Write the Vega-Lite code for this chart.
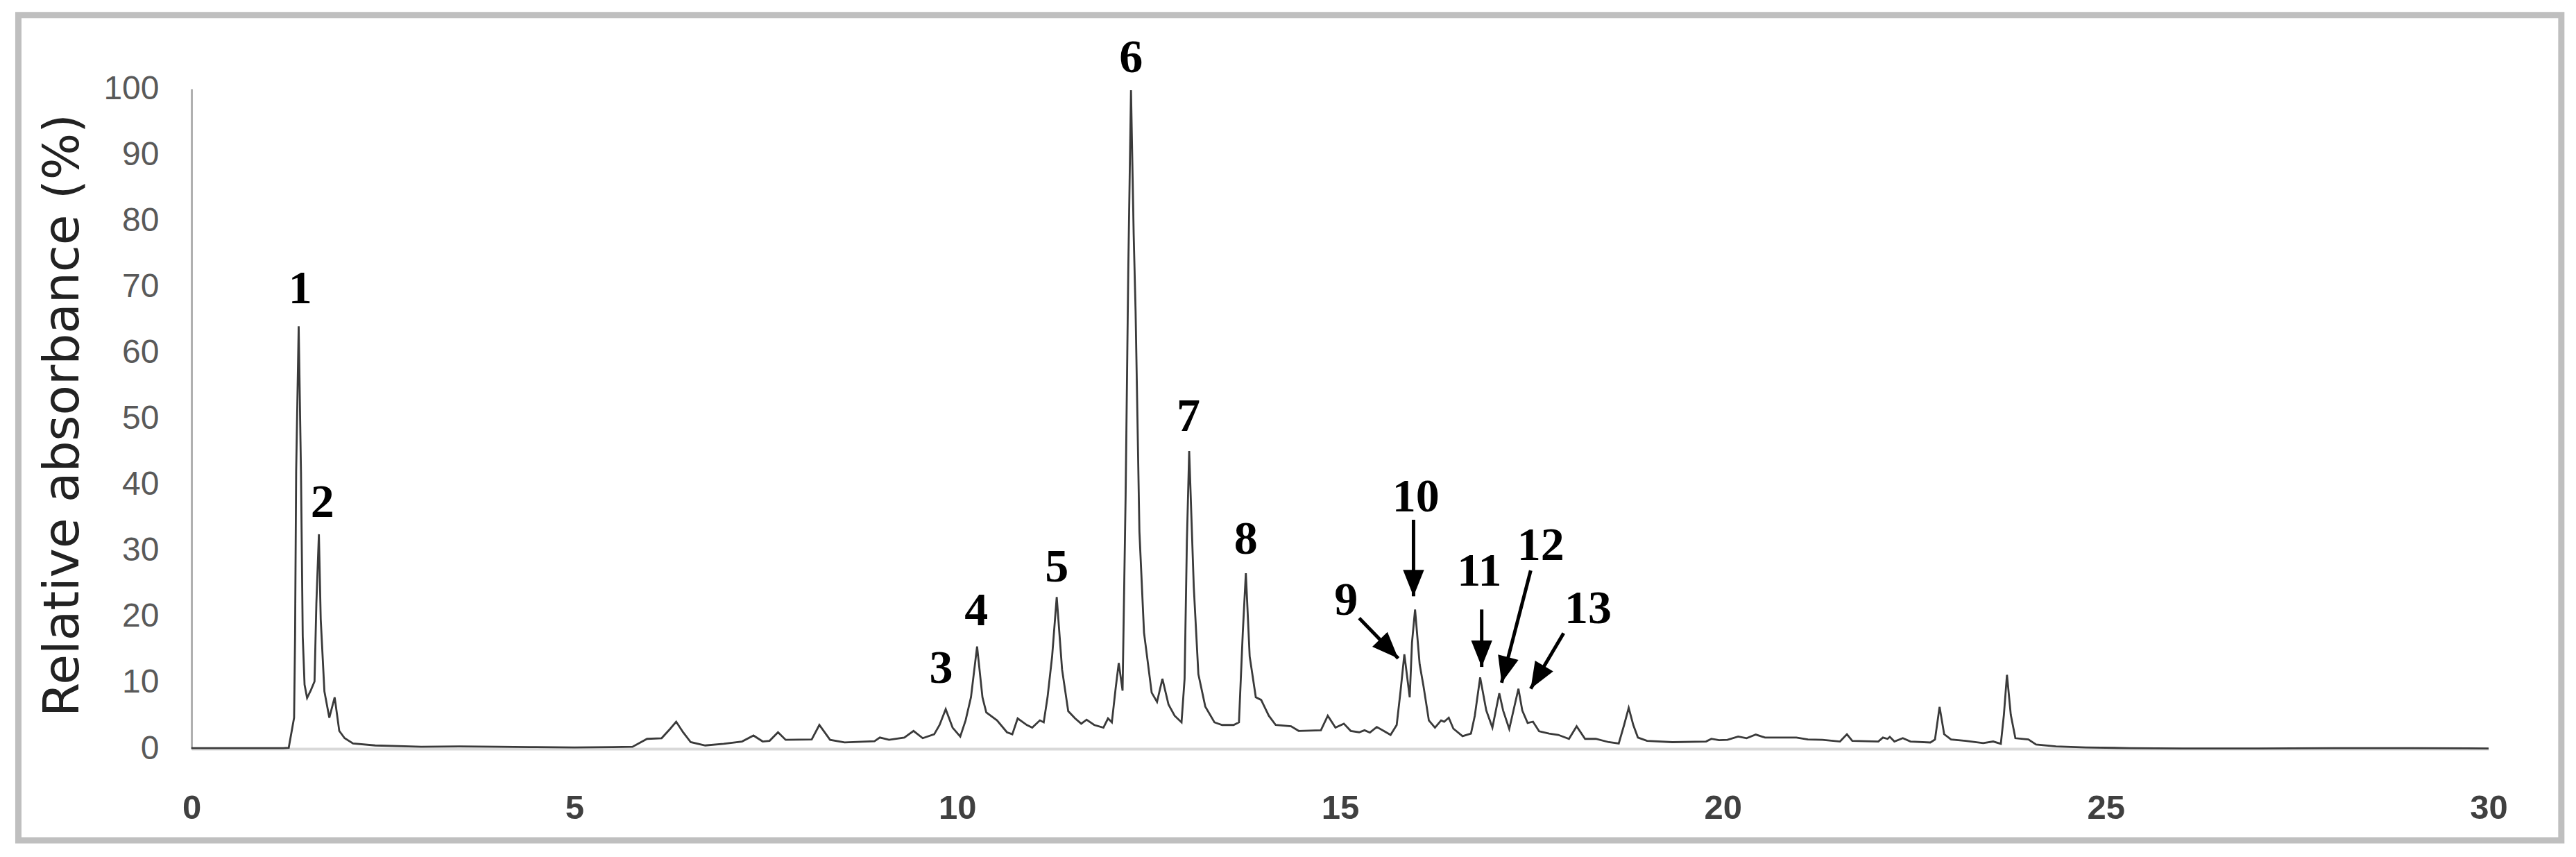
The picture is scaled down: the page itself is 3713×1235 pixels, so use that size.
{
  "$schema": "https://vega.github.io/schema/vega-lite/v6.json",
  "autosize": {"type": "none"},
  "width": 3311,
  "height": 951,
  "padding": {"left": 276, "top": 128, "right": 126, "bottom": 156},
  "background": "white",
  "config": {"view": {"stroke": null}},
  "encoding": {
    "x": {
      "field": "t",
      "type": "quantitative",
      "scale": {"domain": [0, 30], "nice": false, "zero": false},
      "axis": {
        "values": [0, 5, 10, 15, 20, 25, 30],
        "format": "d",
        "title": null,
        "grid": false,
        "ticks": false,
        "tickSize": 0,
        "labelFlush": false,
        "labelOverlap": false,
        "labelFont": "Liberation Sans",
        "labelFontSize": 49,
        "labelFontWeight": "bold",
        "labelColor": "#404040",
        "labelPadding": 61,
        "domainColor": "#d9d9d9",
        "domainWidth": 4
      }
    },
    "y": {
      "field": "v",
      "type": "quantitative",
      "scale": {"domain": [0, 100], "nice": false, "zero": false},
      "axis": {
        "values": [0, 10, 20, 30, 40, 50, 60, 70, 80, 90, 100],
        "title": "Relative absorbance (%)",
        "titleFont": "DejaVu Sans",
        "titleFontSize": 71,
        "titleFontWeight": "normal",
        "titleColor": "#222222",
        "titleLimit": 0,
        "titleAngle": 270,
        "titleAlign": "center",
        "titleBaseline": "alphabetic",
        "titleX": -164,
        "titleY": 470,
        "grid": false,
        "ticks": false,
        "tickSize": 0,
        "labelFlush": false,
        "labelOverlap": false,
        "labelFont": "Liberation Sans",
        "labelFontSize": 48,
        "labelColor": "#595959",
        "labelPadding": 47,
        "domainColor": "#b0b0b0",
        "domainWidth": 3
      }
    }
  },
  "layer": [
    {
      "data": {"values": [{"t": -2.261, "t2": 30.95, "v": 111.18, "v2": -13.88}]},
      "mark": {"type": "rect", "filled": false, "stroke": "#bfbfbf", "strokeWidth": 9},
      "encoding": {
        "x2": {"field": "t2"},
        "y2": {"field": "v2"}
      }
    },
    {
      "data": {
        "values": [
          {"t": 0, "v": 0.1}, {"t": 1.2, "v": 0.1}, {"t": 1.27, "v": 0.15}, {"t": 1.34, "v": 4.7},
          {"t": 1.353, "v": 17}, {"t": 1.367, "v": 42}, {"t": 1.4, "v": 64.0}, {"t": 1.43, "v": 42},
          {"t": 1.453, "v": 17}, {"t": 1.477, "v": 9.7}, {"t": 1.51, "v": 7.7}, {"t": 1.56, "v": 8.9},
          {"t": 1.607, "v": 10.2}, {"t": 1.631, "v": 22}, {"t": 1.664, "v": 32.5}, {"t": 1.688, "v": 19.6},
          {"t": 1.736, "v": 8.7}, {"t": 1.8, "v": 4.7}, {"t": 1.87, "v": 7.8}, {"t": 1.93, "v": 2.7},
          {"t": 2.0, "v": 1.6}, {"t": 2.11, "v": 0.8}, {"t": 2.4, "v": 0.5}, {"t": 3.0, "v": 0.3},
          {"t": 3.5, "v": 0.35}, {"t": 4.0, "v": 0.3}, {"t": 4.5, "v": 0.25}, {"t": 5.0, "v": 0.2},
          {"t": 5.5, "v": 0.25}, {"t": 5.76, "v": 0.3}, {"t": 5.95, "v": 1.5}, {"t": 6.14, "v": 1.6},
          {"t": 6.25, "v": 3.0}, {"t": 6.33, "v": 4.1}, {"t": 6.42, "v": 2.5}, {"t": 6.52, "v": 1.0},
          {"t": 6.71, "v": 0.5}, {"t": 6.95, "v": 0.75}, {"t": 7.19, "v": 1.1}, {"t": 7.34, "v": 2.0},
          {"t": 7.46, "v": 1.1}, {"t": 7.55, "v": 1.2}, {"t": 7.66, "v": 2.5}, {"t": 7.76, "v": 1.35},
          {"t": 8.1, "v": 1.4}, {"t": 8.2, "v": 3.6}, {"t": 8.34, "v": 1.35}, {"t": 8.53, "v": 0.95},
          {"t": 8.92, "v": 1.15}, {"t": 8.99, "v": 1.7}, {"t": 9.11, "v": 1.35}, {"t": 9.31, "v": 1.7},
          {"t": 9.43, "v": 2.7}, {"t": 9.55, "v": 1.6}, {"t": 9.7, "v": 2.2}, {"t": 9.77, "v": 3.6},
          {"t": 9.85, "v": 6.0}, {"t": 9.94, "v": 3.2}, {"t": 10.04, "v": 1.85}, {"t": 10.11, "v": 4.3},
          {"t": 10.18, "v": 7.8}, {"t": 10.26, "v": 15.5}, {"t": 10.33, "v": 7.8}, {"t": 10.38, "v": 5.5},
          {"t": 10.52, "v": 4.3}, {"t": 10.65, "v": 2.5}, {"t": 10.72, "v": 2.2}, {"t": 10.79, "v": 4.6},
          {"t": 10.91, "v": 3.6}, {"t": 10.98, "v": 3.2}, {"t": 11.08, "v": 4.3}, {"t": 11.13, "v": 4.0},
          {"t": 11.18, "v": 7.8}, {"t": 11.24, "v": 14.0}, {"t": 11.3, "v": 23.0}, {"t": 11.37, "v": 12.0},
          {"t": 11.45, "v": 5.7}, {"t": 11.54, "v": 4.6}, {"t": 11.62, "v": 3.8}, {"t": 11.69, "v": 4.4},
          {"t": 11.79, "v": 3.6}, {"t": 11.91, "v": 3.2}, {"t": 11.97, "v": 4.6}, {"t": 12.02, "v": 4.0},
          {"t": 12.07, "v": 9.2}, {"t": 12.11, "v": 13.0}, {"t": 12.16, "v": 8.8}, {"t": 12.2, "v": 38.5},
          {"t": 12.235, "v": 73}, {"t": 12.27, "v": 99.8}, {"t": 12.305, "v": 78}, {"t": 12.33, "v": 66.3},
          {"t": 12.38, "v": 32.9}, {"t": 12.44, "v": 17.6}, {"t": 12.54, "v": 8.5}, {"t": 12.61, "v": 7.1},
          {"t": 12.68, "v": 10.6}, {"t": 12.76, "v": 6.7}, {"t": 12.84, "v": 5.0}, {"t": 12.93, "v": 4.0},
          {"t": 12.97, "v": 10.6}, {"t": 13.0, "v": 31.5}, {"t": 13.03, "v": 45.1}, {"t": 13.09, "v": 24.5},
          {"t": 13.15, "v": 11.3}, {"t": 13.24, "v": 6.4}, {"t": 13.36, "v": 4.0}, {"t": 13.46, "v": 3.6},
          {"t": 13.61, "v": 3.6}, {"t": 13.68, "v": 4.0}, {"t": 13.73, "v": 17.6}, {"t": 13.77, "v": 26.6},
          {"t": 13.82, "v": 14.0}, {"t": 13.9, "v": 7.8}, {"t": 13.97, "v": 7.4}, {"t": 14.07, "v": 5.0},
          {"t": 14.16, "v": 3.6}, {"t": 14.36, "v": 3.4}, {"t": 14.46, "v": 2.7}, {"t": 14.75, "v": 2.8},
          {"t": 14.84, "v": 5.0}, {"t": 14.94, "v": 3.2}, {"t": 15.05, "v": 3.8}, {"t": 15.14, "v": 2.7},
          {"t": 15.25, "v": 2.5}, {"t": 15.32, "v": 2.8}, {"t": 15.39, "v": 2.45}, {"t": 15.48, "v": 3.3},
          {"t": 15.57, "v": 2.7}, {"t": 15.66, "v": 2.1}, {"t": 15.74, "v": 3.6}, {"t": 15.79, "v": 8.7},
          {"t": 15.84, "v": 14.3}, {"t": 15.91, "v": 7.8}, {"t": 15.94, "v": 16.1}, {"t": 15.98, "v": 21.1},
          {"t": 16.04, "v": 12.8}, {"t": 16.09, "v": 9.5}, {"t": 16.16, "v": 4.3}, {"t": 16.24, "v": 3.2},
          {"t": 16.32, "v": 4.3}, {"t": 16.36, "v": 4.1}, {"t": 16.42, "v": 4.7}, {"t": 16.48, "v": 3.05},
          {"t": 16.6, "v": 1.9}, {"t": 16.71, "v": 2.3}, {"t": 16.76, "v": 5.0}, {"t": 16.83, "v": 10.8},
          {"t": 16.91, "v": 5.8}, {"t": 16.99, "v": 3.2}, {"t": 17.08, "v": 8.4}, {"t": 17.13, "v": 5.8},
          {"t": 17.21, "v": 3.0}, {"t": 17.33, "v": 9.1}, {"t": 17.38, "v": 5.8}, {"t": 17.45, "v": 3.9},
          {"t": 17.52, "v": 4.1}, {"t": 17.6, "v": 2.65}, {"t": 17.73, "v": 2.3}, {"t": 17.85, "v": 2.1},
          {"t": 17.99, "v": 1.5}, {"t": 18.09, "v": 3.4}, {"t": 18.2, "v": 1.5}, {"t": 18.34, "v": 1.5},
          {"t": 18.51, "v": 1.0}, {"t": 18.64, "v": 0.8}, {"t": 18.71, "v": 3.6}, {"t": 18.77, "v": 6.2},
          {"t": 18.83, "v": 3.6}, {"t": 18.89, "v": 1.7}, {"t": 19.01, "v": 1.2}, {"t": 19.34, "v": 1.0},
          {"t": 19.78, "v": 1.1}, {"t": 19.85, "v": 1.5}, {"t": 19.95, "v": 1.3}, {"t": 20.06, "v": 1.35},
          {"t": 20.2, "v": 1.85}, {"t": 20.31, "v": 1.6}, {"t": 20.43, "v": 2.15}, {"t": 20.55, "v": 1.7},
          {"t": 20.73, "v": 1.7}, {"t": 20.96, "v": 1.7}, {"t": 21.11, "v": 1.4}, {"t": 21.3, "v": 1.35},
          {"t": 21.53, "v": 1.1}, {"t": 21.62, "v": 2.2}, {"t": 21.69, "v": 1.2}, {"t": 22.03, "v": 1.1},
          {"t": 22.09, "v": 1.7}, {"t": 22.15, "v": 1.5}, {"t": 22.18, "v": 1.8}, {"t": 22.24, "v": 1.1},
          {"t": 22.35, "v": 1.6}, {"t": 22.45, "v": 1.1}, {"t": 22.71, "v": 0.95}, {"t": 22.77, "v": 1.4},
          {"t": 22.83, "v": 6.35}, {"t": 22.89, "v": 2.2}, {"t": 22.98, "v": 1.4}, {"t": 23.17, "v": 1.2},
          {"t": 23.4, "v": 0.85}, {"t": 23.53, "v": 1.1}, {"t": 23.63, "v": 0.75}, {"t": 23.67, "v": 5.15},
          {"t": 23.71, "v": 11.2}, {"t": 23.76, "v": 5.15}, {"t": 23.82, "v": 1.6}, {"t": 23.99, "v": 1.4},
          {"t": 24.09, "v": 0.65}, {"t": 24.35, "v": 0.35}, {"t": 24.74, "v": 0.2}, {"t": 25.31, "v": 0.1},
          {"t": 26.0, "v": 0.05}, {"t": 27.0, "v": 0.05}, {"t": 28.0, "v": 0.1}, {"t": 29.0, "v": 0.1},
          {"t": 30.0, "v": 0.05}
        ]
      },
      "mark": {"type": "line", "color": "#3a3a3a", "strokeWidth": 2.8}
    },
    {
      "data": {
        "values": [
          {"t": 15.25, "v": 19.8, "t2": 15.76, "v2": 13.7},
          {"t": 15.96, "v": 34.7, "t2": 15.96, "v2": 23.1},
          {"t": 16.85, "v": 21.1, "t2": 16.85, "v2": 12.4},
          {"t": 17.49, "v": 27.0, "t2": 17.11, "v2": 10.0},
          {"t": 17.92, "v": 17.5, "t2": 17.49, "v2": 9.1}
        ]
      },
      "transform": [
        {"calculate": "atan2(-(datum.t2 - datum.t) * 110.37, (datum.v - datum.v2) * 9.51) * 180 / PI", "as": "ang"}
      ],
      "layer": [
        {
          "mark": {"type": "rule", "color": "black", "strokeWidth": 5},
          "encoding": {
            "x2": {"field": "t2"},
            "y2": {"field": "v2"}
          }
        },
        {
          "mark": {"type": "point", "shape": "M-0.8,-2L0.8,-2L0,0Z", "filled": true, "color": "black", "opacity": 1, "size": 1444},
          "encoding": {
            "x": {"field": "t2", "type": "quantitative"},
            "y": {"field": "v2", "type": "quantitative"},
            "angle": {"field": "ang", "type": "quantitative", "scale": null}
          }
        }
      ]
    },
    {
      "data": {
        "values": [
          {"label": "1", "t": 1.42, "v": 69.6},
          {"label": "2", "t": 1.71, "v": 37.2},
          {"label": "3", "t": 9.79, "v": 12.1},
          {"label": "4", "t": 10.25, "v": 20.8},
          {"label": "5", "t": 11.3, "v": 27.4},
          {"label": "6", "t": 12.27, "v": 104.6},
          {"label": "7", "t": 13.02, "v": 50.3},
          {"label": "8", "t": 13.77, "v": 31.6},
          {"label": "9", "t": 15.08, "v": 22.4},
          {"label": "10", "t": 15.99, "v": 38.1},
          {"label": "11", "t": 16.82, "v": 26.8},
          {"label": "12", "t": 17.62, "v": 30.7},
          {"label": "13", "t": 18.24, "v": 21.1}
        ]
      },
      "mark": {"type": "text", "font": "Liberation Serif", "fontWeight": "bold", "fontSize": 68, "color": "black", "align": "center", "baseline": "middle"},
      "encoding": {
        "text": {"field": "label"}
      }
    }
  ]
}
